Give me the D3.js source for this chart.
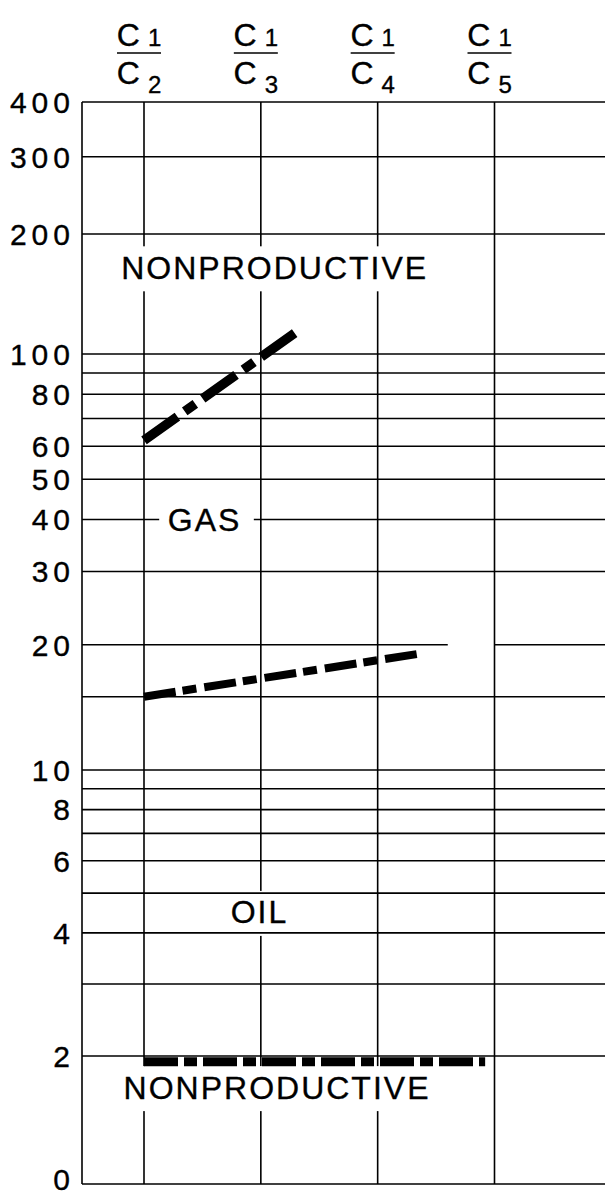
<!DOCTYPE html>
<html>
<head>
<meta charset="utf-8">
<script src="https://cdn.jsdelivr.net/npm/d3@7"></script>
<style>
  html, body { margin: 0; padding: 0; background: #fff; }
  svg { display: block; }
  text { font-family: "Liberation Sans", Arial, Helvetica, sans-serif; fill: #000; stroke: #000; stroke-width: 0.35px; }
</style>
</head>
<body>
<svg id="chart" width="605" height="1197"></svg>
<script>
// Ratio columns (C1 over C2..C5)
const columns = ["C2", "C3", "C4", "C5"];
const denominators = ["2", "3", "4", "5"];

// Horizontal rulings of the log grid
const gridValues = [400, 300, 200, 100, 90, 80, 70, 60, 50, 40, 30, 20, 15, 10, 9, 8, 7, 6, 5, 4, 3, 2, 1];
// Labelled ticks on the left (bottom ruling is labelled "0")
const tickValues = [400, 300, 200, 100, 80, 60, 50, 40, 30, 20, 10, 8, 6, 4, 2, 1];
const tickLabels = ["400", "300", "200", "100", "80", "60", "50", "40", "30", "20", "10", "8", "6", "4", "2", "0"];

// Boundary lines (pos = column index, value = ratio)
const gasUpper = [{ pos: 0, value: 62 }, { pos: 1.31, value: 114 }];
const gasLower = [{ pos: 0, value: 15 }, { pos: 2.39, value: 19.1 }];
const oilLower = [{ pos: 0, value: 1.94 }, { pos: 2.92, value: 1.94 }];

// Zone names
const zoneLabels = [
  { text: "NONPRODUCTIVE", pos: 1.11, value: 165 },
  { text: "GAS", pos: 0.51, value: 40 },
  { text: "OIL", pos: 0.98, value: 4.5 },
  { text: "NONPRODUCTIVE", pos: 1.13, value: 1.69 }
];

// Interruptions in horizontal rulings (column units)
const rowBreaks = [
  { value: 40, from: 0.13, to: 0.94 },
  { value: 20, from: 2.60, to: 3.0 }
];

const svg = d3.select("#chart");
const plotLeft = 82, plotRight = 605;

const x = d3.scaleLinear().domain([0, 3]).range([144, 494.5]);
const y = d3.scaleLog()
  .domain([1, 2, 10, 100, 200, 400])
  .range([1184, 1056, 770, 354, 234, 102]);

const lineW = 1.6;

// vertical rulings
svg.append("g").selectAll("line")
  .data(columns)
  .join("line")
  .attr("x1", (d, i) => x(i)).attr("x2", (d, i) => x(i))
  .attr("y1", y(400)).attr("y2", y(1))
  .attr("stroke", "#000").attr("stroke-width", lineW);

// left axis line
svg.append("line")
  .attr("x1", plotLeft).attr("x2", plotLeft)
  .attr("y1", y(400)).attr("y2", y(1))
  .attr("stroke", "#000").attr("stroke-width", lineW);

// text knockouts behind zone labels
const knock = svg.append("g");

// horizontal rulings, split where a break is listed
const segs = [];
gridValues.forEach(v => {
  const br = rowBreaks.filter(b => b.value === v).sort((a, b) => a.from - b.from);
  let start = plotLeft;
  br.forEach(b => {
    segs.push({ v, x1: start, x2: x(b.from) });
    start = x(b.to);
  });
  segs.push({ v, x1: start, x2: plotRight });
});
svg.append("g").selectAll("line")
  .data(segs)
  .join("line")
  .attr("x1", d => d.x1).attr("x2", d => d.x2)
  .attr("y1", d => y(d.v)).attr("y2", d => y(d.v))
  .attr("stroke", "#000").attr("stroke-width", lineW);

// tick labels
const tickLS = 5;
svg.append("g").selectAll("text")
  .data(tickValues)
  .join("text")
  .attr("x", 70 + tickLS)
  .attr("y", d => y(d))
  .attr("dy", d => d === 1 ? "0.2em" : "0.36em")
  .attr("text-anchor", "end")
  .attr("font-size", 30)
  .attr("letter-spacing", tickLS)
  .text((d, i) => tickLabels[i]);

// boundary lines
const line = d3.line().x(d => x(d.pos)).y(d => y(d.value));
svg.append("path").datum(gasUpper)
  .attr("d", line).attr("fill", "none").attr("stroke", "#000")
  .attr("stroke-width", 9.5).attr("stroke-dasharray", "41,9,13,9");
svg.append("path").datum(gasLower)
  .attr("d", line).attr("fill", "none").attr("stroke", "#000")
  .attr("stroke-width", 8).attr("stroke-dasharray", "32,7,14,8");
svg.append("path").datum(oilLower)
  .attr("d", line).attr("fill", "none").attr("stroke", "#000")
  .attr("stroke-width", 9).attr("stroke-dasharray", "34,6,13,6");

// zone labels
const zoneLS = 2;
const zt = svg.append("g").selectAll("text")
  .data(zoneLabels)
  .join("text")
  .attr("x", d => x(d.pos) + zoneLS / 2)
  .attr("y", d => y(d.value))
  .attr("dy", "0.36em")
  .attr("text-anchor", "middle")
  .attr("font-size", 32)
  .attr("letter-spacing", zoneLS)
  .text(d => d.text);

zt.each(function (d) {
  const bb = this.getBBox();
  knock.append("rect")
    .attr("x", bb.x - 6).attr("width", bb.width + 12)
    .attr("y", y(d.value) - 21).attr("height", 45)
    .attr("fill", "#fff");
});

// column headers: C1 over Cn
const head = svg.append("g").selectAll("g")
  .data(columns)
  .join("g")
  .attr("transform", (d, i) => `translate(${x(i) - 5},0)`);

const num = head.append("text")
  .attr("y", 46).attr("text-anchor", "middle").attr("font-size", 32);
num.append("tspan").text("C");
num.append("tspan").attr("font-size", 24).attr("dx", 8).text("1");

head.append("line")
  .attr("x1", -22).attr("x2", 22).attr("y1", 53).attr("y2", 53)
  .attr("stroke", "#000").attr("stroke-width", 1.6);

const den = head.append("text")
  .attr("y", 84).attr("text-anchor", "middle").attr("font-size", 32);
den.append("tspan").text("C");
den.append("tspan").attr("font-size", 24).attr("dx", 8).attr("dy", 9)
  .text((d, i) => denominators[i]);
</script>
</body>
</html>
